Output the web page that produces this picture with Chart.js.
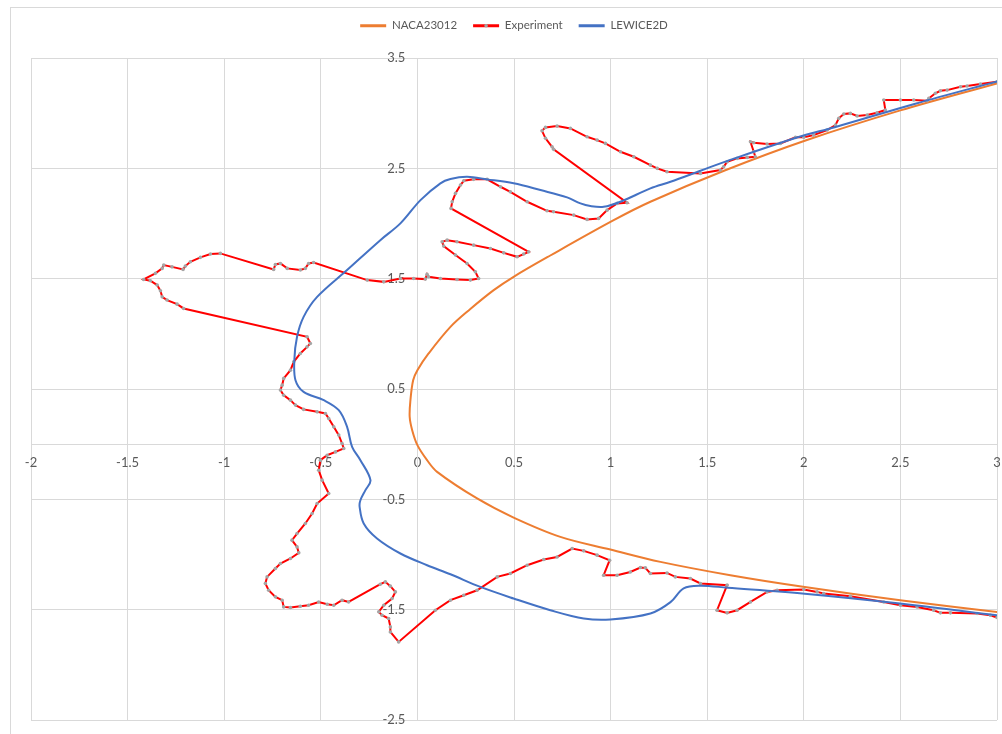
<!DOCTYPE html>
<html>
<head>
<meta charset="utf-8">
<script src="https://cdn.jsdelivr.net/npm/chart.js@4.4.1/dist/chart.umd.min.js"></script>
<style>
  html, body { margin: 0; padding: 0; background: #ffffff; }
  #wrap { position: relative; width: 1002px; height: 734px; }
</style>
</head>
<body>
<div id="wrap"><canvas id="chart" width="1002" height="734"></canvas></div>
<script>
// Airfoil surface (NACA 23012), traced from upper trailing side round the leading edge to the lower side
const nacaX = [3.000, 2.500, 2.005, 1.587, 1.206, 1.016, 0.688, 0.498, 0.395, 0.274, 0.171, 0.058, 0.000, -0.022, -0.036, -0.040, -0.027, 0.000, 0.050, 0.102, 0.309, 0.498, 0.740, 0.999, 1.258, 1.620, 2.005, 2.509, 3.012];
const nacaY = [3.270, 3.025, 2.750, 2.478, 2.197, 2.030, 1.710, 1.517, 1.396, 1.225, 1.063, 0.822, 0.671, 0.580, 0.399, 0.248, 0.127, -0.009, -0.145, -0.251, -0.492, -0.665, -0.840, -0.955, -1.067, -1.188, -1.295, -1.417, -1.523];

// Measured ice contour
const expX = [
  3.000, 2.914, 2.845, 2.811, 2.742, 2.707, 2.681, 2.647, 2.638, 2.569,
  2.500, 2.414, 2.422, 2.379, 2.328, 2.276, 2.241, 2.207, 2.181, 2.164,
  2.121, 2.051, 2.000, 1.957, 1.879, 1.810, 1.741, 1.724, 1.741, 1.749,
  1.707, 1.655, 1.603, 1.585, 1.568, 1.465, 1.292, 1.241, 1.206, 1.120,
  1.051, 0.973, 0.930, 0.878, 0.792, 0.723, 0.663, 0.645, 0.663, 0.697, 0.705,
  1.085, 1.034, 0.982, 0.938, 0.878, 0.809, 0.705, 0.671, 0.568, 0.481,
  0.430, 0.361, 0.291, 0.240, 0.223, 0.197, 0.180, 0.174,
  0.576, 0.550, 0.516, 0.447, 0.378, 0.291, 0.205, 0.154, 0.128, 0.136,
  0.197, 0.257, 0.300, 0.317, 0.274, 0.205, 0.119, 0.058, 0.050, 0.041,
  -0.019, -0.088, -0.174, -0.260,
  -0.537, -0.563, -0.580, -0.606, -0.674, -0.709, -0.735, -0.744,
  -1.020, -1.071, -1.123, -1.175, -1.201, -1.213, -1.270, -1.313, -1.321, -1.356,
  -1.417, -1.382, -1.347, -1.330, -1.321, -1.296, -1.244, -1.210,
  -0.571, -0.554, -0.571, -0.606, -0.640, -0.657, -0.692, -0.700, -0.709, -0.692,
  -0.657, -0.631, -0.589, -0.519, -0.476, -0.459, -0.433, -0.407, -0.390, -0.381,
  -0.424, -0.467, -0.502, -0.511, -0.493, -0.459, -0.519, -0.545, -0.580, -0.623,
  -0.649, -0.623, -0.614, -0.657, -0.709, -0.735, -0.778, -0.787, -0.770, -0.735,
  -0.700, -0.692, -0.657, -0.606, -0.563, -0.511, -0.467, -0.433, -0.390, -0.356,
  -0.192, -0.166, -0.140, -0.114, -0.131, -0.174, -0.200, -0.183, -0.149, -0.140, -0.140, -0.097,
  0.093, 0.171, 0.240, 0.309, 0.413, 0.481, 0.568, 0.654, 0.723, 0.801,
  0.861, 0.930, 0.995, 0.964, 1.034, 1.102, 1.154, 1.180, 1.206, 1.292,
  1.335, 1.413, 1.465, 1.603,
  1.551, 1.603, 1.655, 1.724, 1.810, 1.862, 2.000, 2.069, 2.103, 2.241,
  2.414, 2.500, 2.586, 2.672, 2.707, 2.759, 2.897, 2.966, 3.000
];
const expY = [
  3.285, 3.264, 3.246, 3.239, 3.209, 3.203, 3.180, 3.134, 3.112, 3.119,
  3.119, 3.119, 3.028, 3.004, 2.983, 2.974, 2.998, 2.992, 2.953, 2.892,
  2.847, 2.801, 2.781, 2.781, 2.726, 2.720, 2.732, 2.741, 2.650, 2.605,
  2.599, 2.590, 2.559, 2.514, 2.484, 2.454, 2.469, 2.500, 2.529, 2.605,
  2.650, 2.726, 2.756, 2.786, 2.862, 2.883, 2.871, 2.840, 2.772, 2.695, 2.672,
  2.188, 2.182, 2.121, 2.046, 2.037, 2.076, 2.106, 2.115, 2.197, 2.287,
  2.333, 2.400, 2.400, 2.387, 2.348, 2.273, 2.197, 2.137,
  1.743, 1.723, 1.698, 1.734, 1.774, 1.804, 1.834, 1.849, 1.834, 1.795,
  1.714, 1.638, 1.562, 1.502, 1.487, 1.493, 1.502, 1.517, 1.539, 1.496,
  1.502, 1.502, 1.471, 1.487,
  1.647, 1.638, 1.593, 1.578, 1.593, 1.638, 1.629, 1.584,
  1.729, 1.723, 1.693, 1.653, 1.614, 1.584, 1.607, 1.623, 1.593, 1.548,
  1.493, 1.481, 1.442, 1.390, 1.335, 1.306, 1.269, 1.230,
  0.973, 0.913, 0.882, 0.822, 0.746, 0.671, 0.596, 0.535, 0.490, 0.444,
  0.399, 0.354, 0.315, 0.293, 0.278, 0.233, 0.157, 0.082, 0.006, -0.039,
  -0.070, -0.100, -0.145, -0.236, -0.326, -0.447, -0.538, -0.628, -0.719, -0.810,
  -0.870, -0.931, -0.985, -1.036, -1.082, -1.127, -1.203, -1.263, -1.324, -1.384,
  -1.414, -1.475, -1.481, -1.469, -1.460, -1.430, -1.451, -1.460, -1.414, -1.430,
  -1.269, -1.248, -1.287, -1.339, -1.399, -1.460, -1.520, -1.550, -1.580, -1.656, -1.702, -1.792,
  -1.505, -1.414, -1.369, -1.324, -1.203, -1.172, -1.097, -1.045, -1.022, -0.946,
  -0.967, -1.006, -1.052, -1.188, -1.188, -1.158, -1.118, -1.121, -1.172, -1.167,
  -1.203, -1.218, -1.263, -1.278,
  -1.505, -1.529, -1.505, -1.430, -1.339, -1.324, -1.317, -1.339, -1.354, -1.378,
  -1.430, -1.460, -1.475, -1.505, -1.529, -1.529, -1.535, -1.550, -1.571
];

// LEWICE2D predicted ice shape
const lewX = [3.011, 2.577, 2.160, 1.969, 1.605, 1.465, 1.310, 1.206, 1.051, 0.964, 0.895, 0.844, 0.775, 0.637, 0.498, 0.361, 0.257, 0.171, 0.119, 0.016, -0.088, -0.192, -0.364, -0.519, -0.589, -0.623, -0.637, -0.631, -0.589, -0.485, -0.407, -0.364, -0.338, -0.295, -0.243, -0.269, -0.295, -0.299, -0.278, -0.209, -0.088, 0.050, 0.171, 0.326, 0.498, 0.688, 0.861, 0.999, 1.206, 1.310, 1.378, 1.465, 1.605, 2.005, 2.509, 3.012];
const lewY = [3.293, 3.086, 2.873, 2.782, 2.568, 2.478, 2.378, 2.318, 2.197, 2.151, 2.158, 2.182, 2.237, 2.303, 2.364, 2.400, 2.423, 2.403, 2.364, 2.212, 2.001, 1.849, 1.578, 1.335, 1.154, 0.973, 0.762, 0.580, 0.474, 0.399, 0.308, 0.157, -0.024, -0.145, -0.326, -0.417, -0.508, -0.568, -0.719, -0.855, -0.991, -1.097, -1.179, -1.294, -1.399, -1.505, -1.580, -1.589, -1.535, -1.432, -1.306, -1.283, -1.301, -1.356, -1.447, -1.554];

const seriesNames = ['NACA23012', 'Experiment', 'LEWICE2D'];
const xRange = [-2, 3];
const yRange = [-2.5, 3.5];

const toPoints = (xs, ys) => xs.map((x, i) => ({ x: x, y: ys[i] }));
const fmtTick = (v) => String(Number(v.toFixed(2)));

const fontFamily = 'Lato, "Open Sans", sans-serif';
const tickFont = { family: fontFamily, size: 13 };
const textGray = '#595959';
const gridGray = '#d9d9d9';
const markerGray = '#A5A5A5';

// Frame around the chart area and extra space under the legend
const chartFrame = {
  id: 'chartFrame',
  beforeInit(chart) {
    const origFit = chart.legend.fit;
    chart.legend.fit = function () {
      origFit.call(this);
      this.height = 54;
    };
  },
  beforeDraw(chart) {
    const ctx = chart.ctx;
    ctx.save();
    ctx.strokeStyle = gridGray;
    ctx.lineWidth = 1;
    ctx.strokeRect(10.5, 7.5, 1010, 760);
    ctx.restore();
    // keep the y tick labels clear of the axis line at x = 0
    const items = chart.scales.y.getLabelItems();
    if (!items._shifted) {
      items.forEach((it) => { it.options.translation[0] -= 12; });
      items._shifted = true;
    }
  },
  afterDraw(chart) {
    // marker in the middle of the Experiment legend sample
    const lg = chart.legend;
    lg.legendItems.forEach((item, i) => {
      if (item.text !== seriesNames[1]) return;
      const hb = lg.legendHitBoxes[i];
      const ctx = chart.ctx;
      ctx.save();
      ctx.fillStyle = markerGray;
      ctx.beginPath();
      ctx.arc(hb.left + 13, hb.top + hb.height / 2, 1.8, 0, Math.PI * 2);
      ctx.fill();
      ctx.restore();
    });
  }
};

new Chart(document.getElementById('chart'), {
  type: 'scatter',
  plugins: [chartFrame],
  data: {
    datasets: [
      {
        label: seriesNames[2],
        data: toPoints(lewX, lewY),
        showLine: true,
        borderColor: '#4472C4',
        backgroundColor: '#4472C4',
        borderWidth: 2,
        pointRadius: 0,
        tension: 0.35
      },
      {
        label: seriesNames[1],
        data: toPoints(expX, expY),
        showLine: true,
        borderColor: '#FF0000',
        backgroundColor: markerGray,
        borderWidth: 2,
        pointRadius: 1.8,
        pointBorderWidth: 0,
        pointBackgroundColor: markerGray,
        tension: 0
      },
      {
        label: seriesNames[0],
        data: toPoints(nacaX, nacaY),
        showLine: true,
        borderColor: '#ED7D31',
        backgroundColor: '#ED7D31',
        borderWidth: 2,
        pointRadius: 0,
        tension: 0.35
      }
    ]
  },
  options: {
    responsive: false,
    animation: false,
    layout: { padding: { left: 31, right: 5, top: 4, bottom: 14 } },
    plugins: {
      legend: {
        position: 'top',
        reverse: true,
        labels: {
          usePointStyle: true,
          pointStyle: 'line',
          pointStyleWidth: 26,
          color: textGray,
          font: { family: fontFamily, size: 11.5 },
          padding: 16,
          generateLabels(chart) {
            const items = Chart.defaults.plugins.legend.labels.generateLabels(chart);
            items.forEach((it) => {
              it.lineWidth = 3;
              it.strokeStyle = chart.data.datasets[it.datasetIndex].borderColor;
            });
            return items;
          }
        }
      },
      tooltip: { enabled: false }
    },
    scales: {
      x: {
        type: 'linear',
        position: { y: 0 },
        min: xRange[0],
        max: xRange[1],
        afterFit(scale) { scale.paddingLeft = 0; scale.paddingRight = 0; },
        ticks: { stepSize: 0.5, color: textGray, font: tickFont, padding: 11, maxRotation: 0, autoSkip: false, callback: fmtTick },
        grid: { color: gridGray, lineWidth: 1, drawTicks: false },
        border: { color: gridGray, width: 1 }
      },
      y: {
        type: 'linear',
        position: { x: 0 },
        min: yRange[0],
        max: yRange[1],
        afterFit(scale) { scale.paddingTop = 0; scale.paddingBottom = 0; },
        ticks: { stepSize: 1, color: textGray, font: tickFont, autoSkip: false, callback: fmtTick },
        grid: { color: gridGray, lineWidth: 1, drawTicks: false },
        border: { color: gridGray, width: 1 }
      }
    }
  }
});
</script>
</body>
</html>
